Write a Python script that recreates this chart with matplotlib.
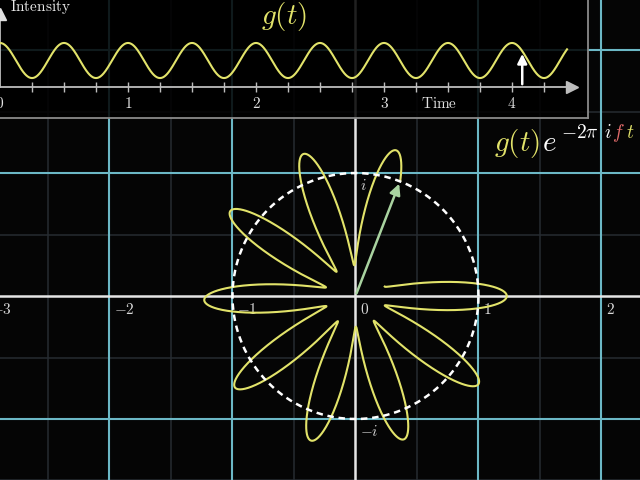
import numpy as np
import matplotlib
matplotlib.use('Agg')
import matplotlib.pyplot as plt

plt.rcParams['mathtext.fontset'] = 'cm'

# complex plane grid
major_x = [-3, -2, -1, 1, 2]
major_y = [-1, 1, 2]
minor_xy = [-2.5, -1.5, -0.5, 0.5, 1.5]
real_vals = [-3, -2, -1, 0, 1, 2]
real_labels = ['$-3$', '$-2$', '$-1$', '$0$', '$1$', '$2$']
imag_vals = [1, -1]
imag_labels = ['$i$', '$-i$']

# signal g(t)
g_mean = 0.74
g_amp = 0.49
g_freq = 2.0        # peaks every 0.5 s
wind_freq = 0.1983  # petals ~35.7 deg apart
t_start = -0.25
t_now = 4.08
t_wave_end = 4.43
time_ticks = [0, 1, 2, 3, 4]
minor_time = [0.25, 0.5, 0.75, 1.25, 1.5, 1.75, 2.25, 2.5, 2.75, 3.25, 3.5, 3.75, 4.25]

yellow = '#e2e36a'
cyan = '#6cb8c6'
bg = '#050505'

fig = plt.figure(figsize=(6.4, 4.8), dpi=100, facecolor=bg)
ax = fig.add_axes([0, 0, 1, 1])
ax.set_xlim(-2.89, 2.313)
ax.set_ylim(-1.496, 2.407)
ax.axis('off')

for v in minor_xy:
    ax.axvline(v, color='#262c31', lw=1.1, zorder=1)
    ax.axhline(v, color='#262c31', lw=1.1, zorder=1)
for v in major_x:
    ax.axvline(v, color=cyan, lw=1.5, zorder=2)
for v in major_y:
    ax.axhline(v, color=cyan, lw=1.5, zorder=2)
ax.axhline(0, color='#e6e6e6', lw=1.8, zorder=3)
ax.axvline(0, color='#e6e6e6', lw=1.8, zorder=3)

for v, s in zip(real_vals, real_labels):
    ax.text(v + 0.04, -0.05, s, color='#d8d8d8', fontsize=11, ha='left', va='top', zorder=4)
for v, s in zip(imag_vals, imag_labels):
    ax.text(0.04, v - 0.04, s, color='#d8d8d8', fontsize=11, ha='left', va='top', zorder=4)

# wound-up curve g(t) e^{-2 pi i f t}
t = np.linspace(t_start, t_now, 3000)
g = g_mean + g_amp * np.cos(2 * np.pi * g_freq * t)
z = g * np.exp(-2j * np.pi * wind_freq * t)
ax.plot(z.real, z.imag, color=yellow, lw=1.5, zorder=5)

circ = np.linspace(0, 2 * np.pi, 400)
ax.plot(np.cos(circ), np.sin(circ), color='white', lw=1.8, ls=(0, (2.6, 1.9)), zorder=6)

ax.annotate('', xy=(z.real[-1], z.imag[-1]), xytext=(0, 0),
            arrowprops=dict(arrowstyle='-|>', color='#a9d3a0', lw=1.8, mutation_scale=16), zorder=7)

# formula on the right
def px(x, y):
    return x / 640, 1 - y / 480

fig.text(*px(494, 151), '$g(t)$', color=yellow, fontsize=21, ha='left', va='baseline')
fig.text(*px(542, 151), '$e$', color='white', fontsize=21, ha='left', va='baseline')
fig.text(*px(561, 138), r'$-2\pi$', color='white', fontsize=14, ha='left', va='baseline')
fig.text(*px(604, 138), '$i$', color='white', fontsize=14, ha='left', va='baseline')
fig.text(*px(612, 138), '$f$', color='#e06a6a', fontsize=14, ha='left', va='baseline')
fig.text(*px(626, 138), '$t$', color=yellow, fontsize=14, ha='left', va='baseline')

# top panel: g(t) vs time
pan = fig.add_axes([0, 1 - 118 / 480, 588 / 640, 118 / 480])
pan.set_facecolor((0, 0, 0, 0.86))
pan.set_xlim(0, 588 / 128)
pan.set_ylim(-31 / 35.8, 87 / 35.8)
pan.set_xticks([])
pan.set_yticks([])
for side in ['left', 'top']:
    pan.spines[side].set_visible(False)
for side in ['right', 'bottom']:
    pan.spines[side].set_color('#8a8a8a')
    pan.spines[side].set_linewidth(1.3)

pan.plot([0, 4.45], [0, 0], color='#bdbdbd', lw=1.3)
pan.plot([4.47], [0], marker='>', color='#bdbdbd', markersize=9)
pan.vlines(minor_time + time_ticks[1:], -0.14, 0.14, color='#bdbdbd', lw=1.0)
pan.plot([0, 0], [0, 2.0], color='#bdbdbd', lw=1.3)
pan.plot([0.0], [2.05], marker='^', color='#e0e0e0', markersize=8, clip_on=False)
for v in time_ticks:
    pan.text(v, -0.45, '$%d$' % v, color='#e0e0e0', fontsize=11, ha='center', va='center')
pan.text(3.43, -0.45, r'$\mathrm{Time}$', color='#e0e0e0', fontsize=11, ha='center', va='center')
pan.text(0.08, 2.12, r'$\mathrm{Intensity}$', color='#e8e8e8', fontsize=11, ha='left', va='baseline')
pan.text(2.22, 1.98, '$g(t)$', color=yellow, fontsize=21, ha='center', va='center')

tw = np.linspace(0, t_wave_end, 1500)
gw = g_mean + g_amp * np.cos(2 * np.pi * g_freq * tw)
pan.plot(tw, gw, color=yellow, lw=1.5)
g_now = g_mean + g_amp * np.cos(2 * np.pi * g_freq * t_now)
pan.annotate('', xy=(t_now, g_now), xytext=(t_now, 0),
             arrowprops=dict(arrowstyle='-|>', color='white', lw=1.8, mutation_scale=14))

fig.savefig('out.png', dpi=100, facecolor=bg)
